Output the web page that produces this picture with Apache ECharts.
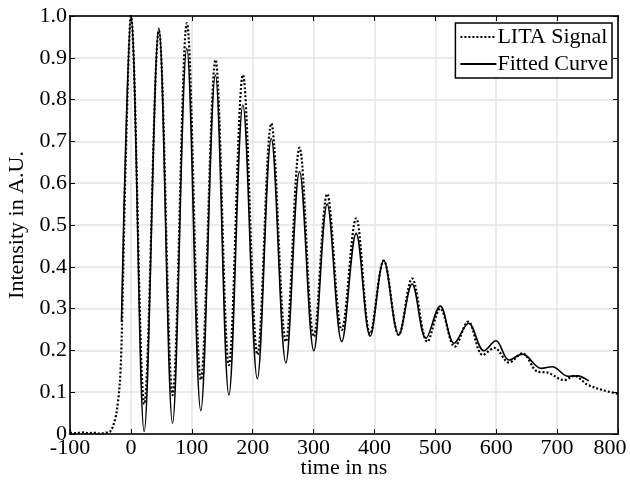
<!DOCTYPE html>
<html>
<head>
<meta charset="utf-8">
<script src="https://cdn.jsdelivr.net/npm/echarts@6/dist/echarts.min.js"></script>
<style>html,body{margin:0;padding:0;background:#fff}#c{width:630px;height:486px}</style>
</head>
<body>
<div id="c"></div>
<script>
// LITA signal (dotted) – times (ns) and intensities
var sigT = [-100, -90, -80, -70, -60, -50, -42, -34, -26, -21, -17, -14, -8, 0,
  22, 46, 68.5, 92, 115, 139, 161, 184, 208, 230.6, 254.5, 277, 300.5, 322.4, 346.4, 370,
  393, 415.3, 440, 461.8, 487, 508, 532, 554, 578, 597, 621, 643, 668, 684, 712, 728, 750, 775, 800];
var sigY = [0.003, 0.002, 0.004, 0.002, 0.003, 0.001, 0.003, 0.006, 0.035, 0.08, 0.15, 0.3, 0.68, 1.0,
  0.072, 0.965, 0.093, 0.983, 0.13, 0.895, 0.165, 0.859, 0.19, 0.743, 0.221, 0.685, 0.233, 0.574, 0.249, 0.516,
  0.24, 0.415, 0.237, 0.372, 0.221, 0.30, 0.209, 0.269, 0.189, 0.206, 0.171, 0.193, 0.149, 0.147, 0.129, 0.139, 0.118, 0.105, 0.096];

// Fitted curve (solid)
var fitT = [-15.5, -8, 0, 21.8, 45.9, 68.4, 91.8, 114.8, 138.8, 161, 184, 207.7, 230.6, 254.5, 277, 300.5,
  322.4, 346.4, 370, 393, 415.3, 440, 461.8, 484.7, 508, 531, 554.6, 580, 599.5, 621, 643, 674, 692, 718, 733, 752];
var fitY = [0.268, 0.72, 1.0, 0.006, 0.971, 0.026, 0.923, 0.056, 0.859, 0.093, 0.787, 0.132, 0.707, 0.170, 0.628, 0.199,
  0.550, 0.221, 0.480, 0.234, 0.415, 0.237, 0.359, 0.229, 0.306, 0.217, 0.265, 0.199, 0.223, 0.177, 0.191, 0.157, 0.161, 0.138, 0.139, 0.127];

var seriesNames = ['LITA Signal', 'Fitted Curve'];
var xLabelName = 'time in ns';
var yLabelName = 'Intensity in A.U.';
var X_MIN = -100, X_MAX = 800;

function pairs(t, y) { return t.map(function (v, i) { return [v, y[i]]; }); }

var FONT = 'Liberation Serif';
var chart = echarts.init(document.getElementById('c'), null, { renderer: 'canvas' });
var tickStyle = { inside: true, length: 5, lineStyle: { color: '#000', width: 1 } };
chart.setOption({
  animation: false,
  backgroundColor: '#fff',
  grid: { left: 70, right: 12, top: 16, bottom: 52, show: true, containLabel: false, outerBoundsMode: 'none',
    borderColor: '#000', borderWidth: 1.5, backgroundColor: 'transparent' },
  legend: {
    orient: 'vertical', right: 18, top: 23,
    data: seriesNames,
    itemWidth: 36, itemHeight: 14, itemGap: 5,
    padding: [3, 4, 3, 4],
    borderColor: '#000', borderWidth: 1.5, backgroundColor: '#fff',
    itemStyle: { opacity: 0, borderWidth: 0 },
    textStyle: { fontFamily: FONT, fontSize: 22, color: '#000', lineHeight: 22, padding: [0, 0, 0, -4] }
  },
  xAxis: [{
    type: 'value', min: X_MIN, max: X_MAX, interval: 100,
    name: xLabelName, nameLocation: 'middle', nameGap: 23, nameMoveOverlap: false,
    nameTextStyle: { fontFamily: FONT, fontSize: 22, color: '#000' },
    axisLine: { onZero: false, lineStyle: { color: '#333', width: 2 } },
    axisTick: tickStyle,
    axisLabel: { fontFamily: FONT, fontSize: 22, color: '#000', margin: 3,
      formatter: function (v) { return v === X_MAX ? '{last|' + v + '}' : String(v); },
      rich: { last: { fontFamily: FONT, fontSize: 22, color: '#000', padding: [0, 16, 0, 0] } } },
    splitLine: { show: true, lineStyle: { color: '#e4e4e4', width: 1.5 } }
  }, {
    type: 'value', position: 'top', min: X_MIN, max: X_MAX, interval: 100,
    axisLine: { show: true, onZero: false, lineStyle: { color: '#000', width: 1.5 } },
    axisTick: tickStyle, axisLabel: { show: false }, splitLine: { show: false }
  }],
  yAxis: [{
    type: 'value', min: 0, max: 1, interval: 0.1,
    name: yLabelName, nameLocation: 'middle', nameGap: 42, nameMoveOverlap: false,
    nameTextStyle: { fontFamily: FONT, fontSize: 22, color: '#000' },
    axisLine: { show: true, onZero: false, lineStyle: { color: '#000', width: 1.5 } },
    axisTick: tickStyle,
    axisLabel: { fontFamily: FONT, fontSize: 22, color: '#000', margin: 3,
      formatter: function (v) { return v === 0 ? '0' : v.toFixed(1); } },
    splitLine: { show: true, lineStyle: { color: '#e4e4e4', width: 1.5 } }
  }, {
    type: 'value', position: 'right', min: 0, max: 1, interval: 0.1,
    axisLine: { show: true, onZero: false, lineStyle: { color: '#000', width: 1.5 } },
    axisTick: tickStyle, axisLabel: { show: false }, splitLine: { show: false }
  }],
  series: [{
    name: seriesNames[0], type: 'line', xAxisIndex: 0, yAxisIndex: 0,
    data: pairs(sigT, sigY), showSymbol: false, symbol: 'none', smooth: 0.36,
    lineStyle: { color: '#000', width: 2.2, type: [2, 2] }, itemStyle: { color: '#000' }, z: 3
  }, {
    name: seriesNames[1], type: 'line', xAxisIndex: 0, yAxisIndex: 0,
    data: pairs(fitT, fitY), showSymbol: false, symbol: 'none', smooth: 0.36,
    lineStyle: { color: '#000', width: 1.6, type: 'solid' }, itemStyle: { color: '#000' }, z: 2
  }]
});
</script>
</body>
</html>
